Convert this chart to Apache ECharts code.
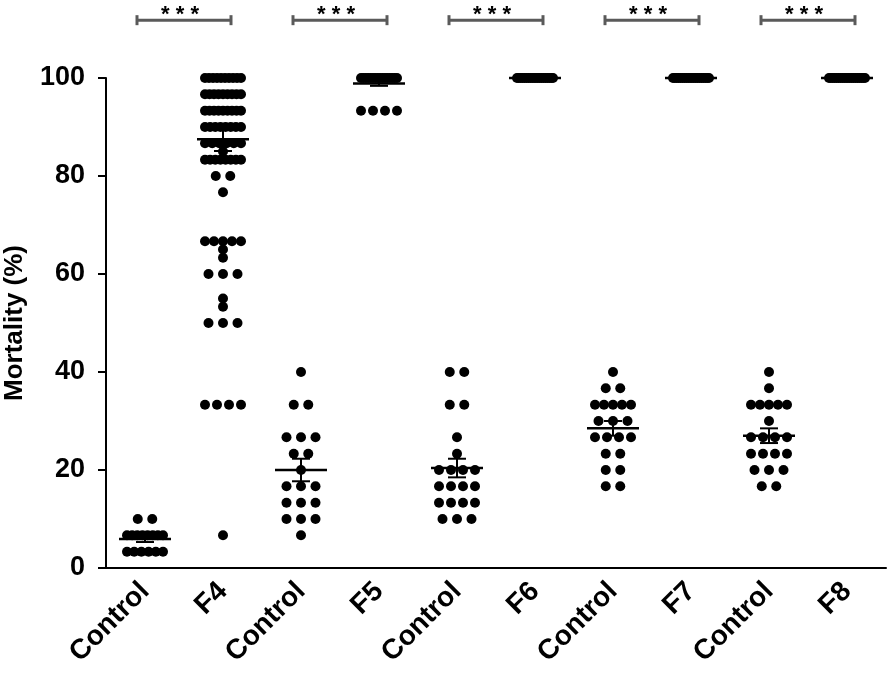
<!DOCTYPE html>
<html>
<head>
<meta charset="utf-8">
<script src="https://cdn.jsdelivr.net/npm/echarts/dist/echarts.min.js"></script>
<style>
html, body { margin: 0; padding: 0; background: #fff; }
#chart { width: 894px; height: 675px; }
</style>
</head>
<body>
<div id="chart"></div>
<script>
const categories = ['Control', 'F4', 'Control', 'F5', 'Control', 'F6', 'Control', 'F7', 'Control', 'F8'];

// mortality (%) of every replicate
const ctrl1 = [10, 10, 6.7, 6.7, 6.7, 6.7, 6.7, 6.7, 6.7, 6.7, 3.3, 3.3, 3.3, 3.3, 3.3, 3.3];
const f4 = [100, 100, 100, 100, 100, 100, 100, 100, 100, 100,
  96.7, 96.7, 96.7, 96.7, 96.7, 96.7, 96.7, 96.7, 96.7,
  93.3, 93.3, 93.3, 93.3, 93.3, 93.3, 93.3, 93.3, 93.3,
  90, 90, 90, 90, 90, 90, 90, 90,
  86.7, 86.7, 86.7, 86.7, 86.7, 86.7, 85,
  83.3, 83.3, 83.3, 83.3, 83.3, 83.3, 83.3, 83.3,
  80, 80, 76.7,
  66.7, 66.7, 66.7, 66.7, 66.7, 65, 63.3,
  60, 60, 60, 55, 53.3, 50, 50, 50,
  33.3, 33.3, 33.3, 33.3, 6.7];
const ctrl2 = [40, 33.3, 33.3, 26.7, 26.7, 26.7, 23.3, 23.3, 20, 16.7, 16.7, 16.7, 13.3, 13.3, 13.3, 10, 10, 10, 6.7];
const f5 = [100, 100, 100, 100, 100, 100, 100, 100, 100, 100, 100, 100, 100, 100, 100, 100, 93.3, 93.3, 93.3, 93.3];
const ctrl3 = [40, 40, 33.3, 33.3, 26.7, 23.3, 20, 20, 20, 20, 16.7, 16.7, 16.7, 16.7, 13.3, 13.3, 13.3, 13.3, 10, 10, 10];
const f6 = [100, 100, 100, 100, 100, 100, 100, 100, 100, 100, 100, 100, 100, 100, 100, 100, 100, 100, 100, 100];
const ctrl4 = [40, 36.7, 36.7, 33.3, 33.3, 33.3, 33.3, 33.3, 30, 30, 30, 26.7, 26.7, 26.7, 26.7, 23.3, 23.3, 20, 20, 16.7, 16.7];
const f7 = [100, 100, 100, 100, 100, 100, 100, 100, 100, 100, 100, 100, 100, 100, 100, 100, 100, 100, 100, 100];
const ctrl5 = [40, 36.7, 33.3, 33.3, 33.3, 33.3, 33.3, 30, 26.7, 26.7, 26.7, 26.7, 23.3, 23.3, 23.3, 23.3, 20, 20, 20, 16.7, 16.7];
const f8 = [100, 100, 100, 100, 100, 100, 100, 100, 100, 100, 100, 100, 100, 100, 100, 100, 100, 100, 100, 100];

// mean and SEM bars as drawn
const meanVals = [5.9, 87.5, 20.0, 98.9, 20.4, 100, 28.5, 100, 27.0, 100];
const semVals = [0.6, 2.4, 2.3, 0.5, 1.9, 0, 1.5, 0, 1.5, 0];

// significance brackets (category index pairs)
const pairs = [[0, 1], [2, 3], [4, 5], [6, 7], [8, 9]];
const sigLabels = ['* * *', '* * *', '* * *', '* * *', '* * *'];
const bracketLevel = 111.8;

const groups = [ctrl1, f4, ctrl2, f5, ctrl3, f6, ctrl4, f7, ctrl5, f8];
const FONT = '"Liberation Sans", Arial, sans-serif';

// spread equal values sideways like a column scatter plot
function swarm(values) {
  const counts = {};
  values.forEach(v => { counts[v] = (counts[v] || 0) + 1; });
  const seen = {};
  return values.map(v => {
    const n = counts[v];
    const i = seen[v] = (seen[v] === undefined ? 0 : seen[v] + 1);
    const step = n > 1 ? Math.min(14.5, 36 / (n - 1)) : 0;
    return (i - (n - 1) / 2) * step;
  });
}

const dots = [];
groups.forEach((vals, gi) => {
  const offs = swarm(vals);
  vals.forEach((v, k) => {
    dots.push({ value: [gi, v], symbolOffset: [offs[k], 0] });
  });
});

const meanData = meanVals.map((m, i) => [i, m, semVals[i]]);
const bracketData = pairs.map((p, i) => [p[0], bracketLevel, p[1], i]);

function seg(x1, y1, x2, y2, w, color) {
  return { type: 'line', shape: { x1: x1, y1: y1, x2: x2, y2: y2 }, style: { stroke: color || '#000', lineWidth: w } };
}

const chart = echarts.init(document.getElementById('chart'));
chart.setOption({
  animation: false,
  backgroundColor: '#fff',
  grid: { left: 106, right: 8, top: 78, bottom: 107, outerBoundsMode: 'none' },
  xAxis: {
    type: 'category',
    data: categories,
    boundaryGap: true,
    axisLine: { lineStyle: { color: '#000', width: 2 } },
    axisTick: { alignWithLabel: true, length: 8, lineStyle: { color: '#000', width: 2 } },
    axisLabel: { interval: 0, rotate: 45, margin: 19, color: '#000', fontSize: 28, fontWeight: 'bold', fontFamily: FONT },
    splitLine: { show: false }
  },
  yAxis: {
    type: 'value',
    min: 0,
    max: 100,
    interval: 20,
    name: 'Mortality (%)',
    nameLocation: 'middle',
    nameGap: 78,
    nameTextStyle: { color: '#000', fontSize: 26, fontWeight: 'bold', fontFamily: FONT },
    axisLine: { show: true, lineStyle: { color: '#000', width: 2 } },
    axisTick: { show: true, length: 8, lineStyle: { color: '#000', width: 2 } },
    axisLabel: { margin: 21, color: '#000', fontSize: 27, fontWeight: 'bold', fontFamily: FONT },
    splitLine: { show: false }
  },
  series: [
    {
      type: 'scatter',
      symbol: 'circle',
      symbolSize: 10,
      itemStyle: { color: '#000', opacity: 1 },
      data: dots,
      z: 2
    },
    {
      type: 'custom',
      z: 3,
      data: meanData,
      renderItem: function (params, api) {
        const c = api.coord([api.value(0), api.value(1)]);
        const m = api.value(1), s = api.value(2);
        const top = api.coord([api.value(0), m + s])[1];
        const bot = api.coord([api.value(0), m - s])[1];
        const children = [seg(c[0] - 26, c[1], c[0] + 26, c[1], 2.5)];
        if (s > 0) {
          children.push(seg(c[0], top, c[0], bot, 2));
          children.push(seg(c[0] - 9, top, c[0] + 9, top, 2));
          children.push(seg(c[0] - 9, bot, c[0] + 9, bot, 2));
        }
        return { type: 'group', children: children };
      }
    },
    {
      type: 'custom',
      z: 4,
      data: bracketData,
      renderItem: function (params, api) {
        const a = api.coord([api.value(0), api.value(1)]);
        const b = api.coord([api.value(2), api.value(1)]);
        const x1 = a[0] - 8, x2 = b[0] + 8, y = a[1];
        const grey = '#5a5a5a';
        return {
          type: 'group',
          children: [
            seg(x1, y, x2, y, 3, grey),
            seg(x1, y - 5, x1, y + 5, 3, grey),
            seg(x2, y - 5, x2, y + 5, 3, grey),
            {
              type: 'text',
              style: {
                text: sigLabels[api.value(3)],
                x: (x1 + x2) / 2 - 4, y: y - 5,
                fill: '#000',
                font: 'bold 22px ' + FONT,
                align: 'center', verticalAlign: 'middle',
                textAlign: 'center', textVerticalAlign: 'middle'
              }
            }
          ]
        };
      }
    }
  ]
});
</script>
</body>
</html>
